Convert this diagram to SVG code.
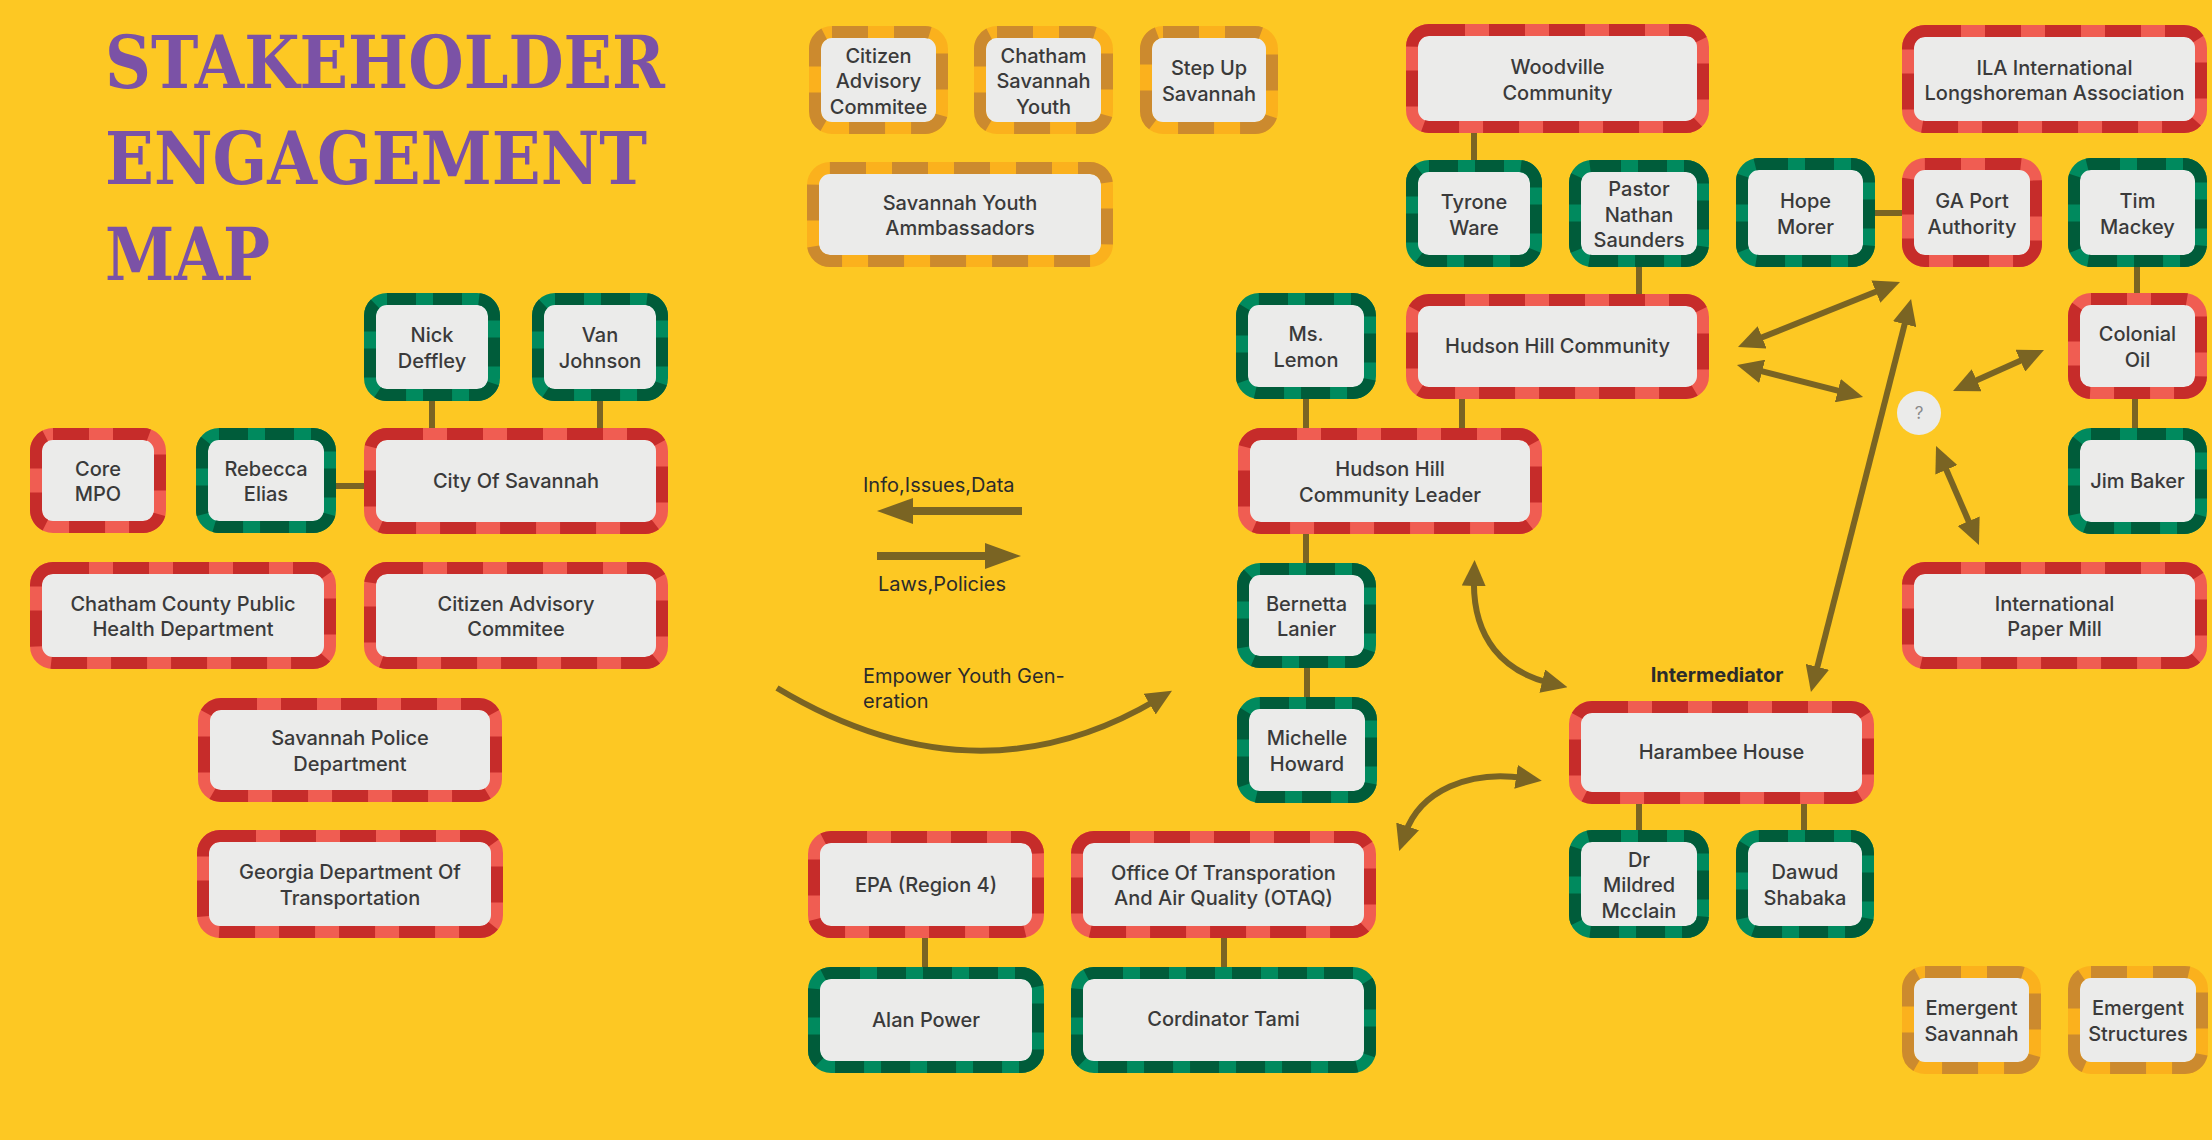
<svg xmlns="http://www.w3.org/2000/svg" width="2212" height="1140" viewBox="0 0 2212 1140">
<defs>
<style>
.base{fill:#EBEBEA;stroke-width:12}
.dash{fill:none;stroke-width:12}
.red .base{stroke:#F05D52}.red .dash{stroke:#C62C2A;stroke-dasharray:36 24}
.grn .base{stroke:#008A5E}.grn .dash{stroke:#005C3A;stroke-dasharray:29 17}
.org .base{stroke:#FBB11D}.org .dash{stroke:#CC8A2E;stroke-dasharray:36 26}
.t{font-family:Inter,"Noto Sans","Liberation Sans",sans-serif;font-size:20px;font-weight:500;fill:#3a3a3a;text-anchor:middle}
.lbl{font-family:Inter,"Noto Sans","Liberation Sans",sans-serif;font-size:20px;font-weight:400;fill:#2b2b2b}
.con{stroke:#7A6423;stroke-width:6;fill:none}
.arr{stroke:#7A6423;stroke-width:6;fill:none;marker-end:url(#ah)}
.darr{stroke:#7A6423;stroke-width:6;fill:none;marker-start:url(#ah);marker-end:url(#ah)}
.big{stroke:#7A6423;stroke-width:8;fill:none;marker-end:url(#ahb)}
.title{font-family:"DejaVu Serif","Liberation Serif",serif;font-size:73px;font-weight:bold;fill:#7B52A6}
</style>
<marker id="ah" viewBox="0 0 26 24" refX="8" refY="12" markerWidth="26" markerHeight="24" markerUnits="userSpaceOnUse" orient="auto-start-reverse"><path d="M0,0 L26,12 L0,24 z" fill="#7A6423"/></marker>
<marker id="ahb" viewBox="0 0 36 26" refX="6" refY="13" markerWidth="36" markerHeight="26" markerUnits="userSpaceOnUse" orient="auto"><path d="M0,0 L36,13 L0,26 z" fill="#7A6423"/></marker>
</defs>
<rect x="0" y="0" width="2212" height="1140" fill="#FDC823"/>
<g id="title">
<text class="title" x="105" y="88" textLength="560" lengthAdjust="spacingAndGlyphs">STAKEHOLDER</text>
<text class="title" x="105" y="184" textLength="542" lengthAdjust="spacingAndGlyphs">ENGAGEMENT</text>
<text class="title" x="105" y="280" textLength="165" lengthAdjust="spacingAndGlyphs">MAP</text>
</g>
<g id="connectors">
<line class="con" x1="432" y1="401" x2="432" y2="428"/>
<line class="con" x1="600" y1="401" x2="600" y2="428"/>
<line class="con" x1="336" y1="486" x2="364" y2="486"/>
<line class="con" x1="1474" y1="133" x2="1474" y2="160"/>
<line class="con" x1="1639" y1="267" x2="1639" y2="294"/>
<line class="con" x1="1875" y1="213" x2="1902" y2="213"/>
<line class="con" x1="2137" y1="267" x2="2137" y2="293"/>
<line class="con" x1="2135" y1="399" x2="2135" y2="428"/>
<line class="con" x1="1306" y1="399" x2="1306" y2="428"/>
<line class="con" x1="1462" y1="399" x2="1462" y2="428"/>
<line class="con" x1="1306" y1="534" x2="1306" y2="563"/>
<line class="con" x1="1307" y1="668" x2="1307" y2="697"/>
<line class="con" x1="1639" y1="804" x2="1639" y2="830"/>
<line class="con" x1="1804" y1="804" x2="1804" y2="830"/>
<line class="con" x1="925" y1="938" x2="925" y2="967"/>
<line class="con" x1="1224" y1="938" x2="1224" y2="967"/>
<line class="darr" x1="1754.7" y1="340.3" x2="1883.3" y2="288.7"/>
<line class="darr" x1="1754.4" y1="369.4" x2="1845.6" y2="392.6"/>
<line class="darr" x1="1815.4" y1="674.6" x2="1906.6" y2="316.4"/>
<line class="darr" x1="1969.4" y1="383.6" x2="2027.6" y2="357.4"/>
<line class="darr" x1="1943.2" y1="462.5" x2="1971.8" y2="528.5"/>
<path class="darr" d="M1474,578 C1472,640 1505,672 1550,683"/>
<path class="darr" d="M1524,778 C1470,770 1420,790 1405,834"/>
<path class="arr" d="M777,688 Q975,807 1156.5,700"/>
<line class="big" x1="1022" y1="511" x2="907" y2="511"/>
<line class="big" x1="877" y1="556" x2="991" y2="556"/>
</g>
<g id="labels">
<text class="lbl" x="863" y="492">Info,Issues,Data</text>
<text class="lbl" x="878" y="591">Laws,Policies</text>
<text class="lbl" x="863" y="683">Empower Youth Gen-</text>
<text class="lbl" x="863" y="708">eration</text>
<text class="t" x="1717" y="682" style="font-weight:700;fill:#2b2b2b">Intermediator</text>
</g>
<g id="n-question"><circle cx="1919" cy="413" r="22" fill="#EBEBEA"/><text x="1919" y="419" text-anchor="middle" style="font-family:Inter,sans-serif;font-size:17px;fill:#8a8a8a">?</text></g>
<g id="n-cac-top" class="org"><rect class="base" x="815" y="32" width="127" height="96" rx="17"/><rect class="dash" x="815" y="32" width="127" height="96" rx="17"/><text class="t" x="878.5"><tspan x="878.5" y="62.5">Citizen</tspan><tspan x="878.5" y="88">Advisory</tspan><tspan x="878.5" y="113.5">Commitee</tspan></text></g>
<g id="n-csy" class="org"><rect class="base" x="980" y="32" width="127" height="96" rx="17"/><rect class="dash" x="980" y="32" width="127" height="96" rx="17"/><text class="t"><tspan x="1043.5" y="62.5">Chatham</tspan><tspan x="1043.5" y="88">Savannah</tspan><tspan x="1043.5" y="113.5">Youth</tspan></text></g>
<g id="n-stepup" class="org"><rect class="base" x="1146" y="32" width="126" height="96" rx="17"/><rect class="dash" x="1146" y="32" width="126" height="96" rx="17"/><text class="t"><tspan x="1209" y="75">Step Up</tspan><tspan x="1209" y="101">Savannah</tspan></text></g>
<g id="n-sya" class="org"><rect class="base" x="813" y="168" width="294" height="93" rx="17"/><rect class="dash" x="813" y="168" width="294" height="93" rx="17"/><text class="t"><tspan x="960" y="210">Savannah Youth</tspan><tspan x="960" y="235">Ammbassadors</tspan></text></g>
<g id="n-woodville" class="red"><rect class="base" x="1412" y="30" width="291" height="97" rx="17"/><rect class="dash" x="1412" y="30" width="291" height="97" rx="17"/><text class="t"><tspan x="1557.5" y="74">Woodville</tspan><tspan x="1557.5" y="99.5">Community</tspan></text></g>
<g id="n-ila" class="red"><rect class="base" x="1908" y="31" width="293" height="96" rx="17"/><rect class="dash" x="1908" y="31" width="293" height="96" rx="17"/><text class="t"><tspan x="2054.5" y="74.5">ILA International</tspan><tspan x="2054.5" y="100">Longshoreman Association</tspan></text></g>
<g id="n-tyrone" class="grn"><rect class="base" x="1412" y="166" width="124" height="95" rx="17"/><rect class="dash" x="1412" y="166" width="124" height="95" rx="17"/><text class="t"><tspan x="1474" y="209">Tyrone</tspan><tspan x="1474" y="234.5">Ware</tspan></text></g>
<g id="n-pastor" class="grn"><rect class="base" x="1575" y="166" width="128" height="95" rx="17"/><rect class="dash" x="1575" y="166" width="128" height="95" rx="17"/><text class="t"><tspan x="1639" y="196">Pastor</tspan><tspan x="1639" y="221.5">Nathan</tspan><tspan x="1639" y="247">Saunders</tspan></text></g>
<g id="n-hope" class="grn"><rect class="base" x="1742" y="164" width="127" height="97" rx="17"/><rect class="dash" x="1742" y="164" width="127" height="97" rx="17"/><text class="t"><tspan x="1805.5" y="208">Hope</tspan><tspan x="1805.5" y="233.5">Morer</tspan></text></g>
<g id="n-gaport" class="red"><rect class="base" x="1908" y="164" width="128" height="97" rx="17"/><rect class="dash" x="1908" y="164" width="128" height="97" rx="17"/><text class="t"><tspan x="1972" y="208">GA Port</tspan><tspan x="1972" y="233.5">Authority</tspan></text></g>
<g id="n-tim" class="grn"><rect class="base" x="2074" y="164" width="127" height="97" rx="17"/><rect class="dash" x="2074" y="164" width="127" height="97" rx="17"/><text class="t"><tspan x="2137.5" y="208">Tim</tspan><tspan x="2137.5" y="233.5">Mackey</tspan></text></g>
<g id="n-nick" class="grn"><rect class="base" x="370" y="299" width="124" height="96" rx="17"/><rect class="dash" x="370" y="299" width="124" height="96" rx="17"/><text class="t"><tspan x="432" y="342">Nick</tspan><tspan x="432" y="368">Deffley</tspan></text></g>
<g id="n-van" class="grn"><rect class="base" x="538" y="299" width="124" height="96" rx="17"/><rect class="dash" x="538" y="299" width="124" height="96" rx="17"/><text class="t"><tspan x="600" y="342">Van</tspan><tspan x="600" y="368">Johnson</tspan></text></g>
<g id="n-core" class="red"><rect class="base" x="36" y="434" width="124" height="93" rx="17"/><rect class="dash" x="36" y="434" width="124" height="93" rx="17"/><text class="t"><tspan x="98" y="476">Core</tspan><tspan x="98" y="501">MPO</tspan></text></g>
<g id="n-rebecca" class="grn"><rect class="base" x="202" y="434" width="128" height="93" rx="17"/><rect class="dash" x="202" y="434" width="128" height="93" rx="17"/><text class="t"><tspan x="266" y="476">Rebecca</tspan><tspan x="266" y="501">Elias</tspan></text></g>
<g id="n-city" class="red"><rect class="base" x="370" y="434" width="292" height="94" rx="17"/><rect class="dash" x="370" y="434" width="292" height="94" rx="17"/><text class="t" x="516" y="488">City Of Savannah</text></g>
<g id="n-cphd" class="red"><rect class="base" x="36" y="568" width="294" height="95" rx="17"/><rect class="dash" x="36" y="568" width="294" height="95" rx="17"/><text class="t"><tspan x="183" y="611">Chatham County Public</tspan><tspan x="183" y="636">Health Department</tspan></text></g>
<g id="n-cac-red" class="red"><rect class="base" x="370" y="568" width="292" height="95" rx="17"/><rect class="dash" x="370" y="568" width="292" height="95" rx="17"/><text class="t"><tspan x="516" y="611">Citizen Advisory</tspan><tspan x="516" y="636">Commitee</tspan></text></g>
<g id="n-police" class="red"><rect class="base" x="204" y="704" width="292" height="92" rx="17"/><rect class="dash" x="204" y="704" width="292" height="92" rx="17"/><text class="t"><tspan x="350" y="745">Savannah Police</tspan><tspan x="350" y="771">Department</tspan></text></g>
<g id="n-gdot" class="red"><rect class="base" x="203" y="836" width="294" height="96" rx="17"/><rect class="dash" x="203" y="836" width="294" height="96" rx="17"/><text class="t"><tspan x="350" y="879">Georgia Department Of</tspan><tspan x="350" y="905">Transportation</tspan></text></g>
<g id="n-mslemon" class="grn"><rect class="base" x="1242" y="299" width="128" height="94" rx="17"/><rect class="dash" x="1242" y="299" width="128" height="94" rx="17"/><text class="t"><tspan x="1306" y="341">Ms.</tspan><tspan x="1306" y="367">Lemon</tspan></text></g>
<g id="n-hhc" class="red"><rect class="base" x="1412" y="300" width="291" height="93" rx="17"/><rect class="dash" x="1412" y="300" width="291" height="93" rx="17"/><text class="t" x="1557.5" y="353">Hudson Hill Community</text></g>
<g id="n-leader" class="red"><rect class="base" x="1244" y="434" width="292" height="94" rx="17"/><rect class="dash" x="1244" y="434" width="292" height="94" rx="17"/><text class="t"><tspan x="1390" y="476">Hudson Hill</tspan><tspan x="1390" y="502">Community Leader</tspan></text></g>
<g id="n-bernetta" class="grn"><rect class="base" x="1243" y="569" width="127" height="93" rx="17"/><rect class="dash" x="1243" y="569" width="127" height="93" rx="17"/><text class="t"><tspan x="1306.5" y="611">Bernetta</tspan><tspan x="1306.5" y="636">Lanier</tspan></text></g>
<g id="n-michelle" class="grn"><rect class="base" x="1243" y="703" width="128" height="94" rx="17"/><rect class="dash" x="1243" y="703" width="128" height="94" rx="17"/><text class="t"><tspan x="1307" y="745">Michelle</tspan><tspan x="1307" y="771">Howard</tspan></text></g>
<g id="n-colonial" class="red"><rect class="base" x="2074" y="299" width="127" height="94" rx="17"/><rect class="dash" x="2074" y="299" width="127" height="94" rx="17"/><text class="t"><tspan x="2137.5" y="341">Colonial</tspan><tspan x="2137.5" y="367">Oil</tspan></text></g>
<g id="n-jim" class="grn"><rect class="base" x="2074" y="434" width="127" height="94" rx="17"/><rect class="dash" x="2074" y="434" width="127" height="94" rx="17"/><text class="t" x="2137.5" y="488">Jim Baker</text></g>
<g id="n-paper" class="red"><rect class="base" x="1908" y="568" width="293" height="95" rx="17"/><rect class="dash" x="1908" y="568" width="293" height="95" rx="17"/><text class="t"><tspan x="2054.5" y="611">International</tspan><tspan x="2054.5" y="636">Paper Mill</tspan></text></g>
<g id="n-harambee" class="red"><rect class="base" x="1575" y="707" width="293" height="91" rx="17"/><rect class="dash" x="1575" y="707" width="293" height="91" rx="17"/><text class="t" x="1721.5" y="759">Harambee House</text></g>
<g id="n-drm" class="grn"><rect class="base" x="1575" y="836" width="128" height="96" rx="17"/><rect class="dash" x="1575" y="836" width="128" height="96" rx="17"/><text class="t"><tspan x="1639" y="866.5">Dr</tspan><tspan x="1639" y="892">Mildred</tspan><tspan x="1639" y="917.5">Mcclain</tspan></text></g>
<g id="n-dawud" class="grn"><rect class="base" x="1742" y="836" width="126" height="96" rx="17"/><rect class="dash" x="1742" y="836" width="126" height="96" rx="17"/><text class="t"><tspan x="1805" y="879">Dawud</tspan><tspan x="1805" y="905">Shabaka</tspan></text></g>
<g id="n-epa" class="red"><rect class="base" x="814" y="837" width="224" height="95" rx="17"/><rect class="dash" x="814" y="837" width="224" height="95" rx="17"/><text class="t" x="926" y="892">EPA (Region 4)</text></g>
<g id="n-otaq" class="red"><rect class="base" x="1077" y="837" width="293" height="95" rx="17"/><rect class="dash" x="1077" y="837" width="293" height="95" rx="17"/><text class="t"><tspan x="1223.5" y="880">Office Of Transporation</tspan><tspan x="1223.5" y="905">And Air Quality (OTAQ)</tspan></text></g>
<g id="n-alan" class="grn"><rect class="base" x="814" y="973" width="224" height="94" rx="17"/><rect class="dash" x="814" y="973" width="224" height="94" rx="17"/><text class="t" x="926" y="1027">Alan Power</text></g>
<g id="n-tami" class="grn"><rect class="base" x="1077" y="973" width="293" height="94" rx="17"/><rect class="dash" x="1077" y="973" width="293" height="94" rx="17"/><text class="t" x="1223.5" y="1026">Cordinator Tami</text></g>
<g id="n-emsav" class="org"><rect class="base" x="1908" y="972" width="127" height="96" rx="17"/><rect class="dash" x="1908" y="972" width="127" height="96" rx="17"/><text class="t"><tspan x="1971.5" y="1015">Emergent</tspan><tspan x="1971.5" y="1041">Savannah</tspan></text></g>
<g id="n-emstr" class="org"><rect class="base" x="2074" y="972" width="128" height="96" rx="17"/><rect class="dash" x="2074" y="972" width="128" height="96" rx="17"/><text class="t"><tspan x="2138" y="1015">Emergent</tspan><tspan x="2138" y="1041">Structures</tspan></text></g>
</svg>
